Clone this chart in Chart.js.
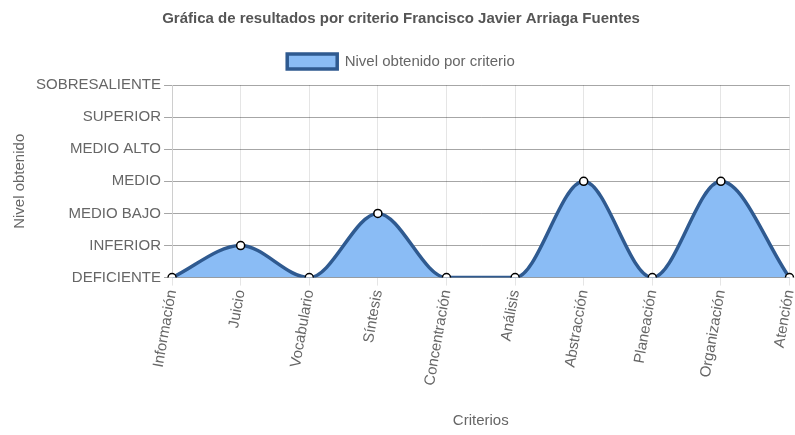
<!DOCTYPE html>
<html>
<head>
<meta charset="utf-8">
<script src="https://cdn.jsdelivr.net/npm/chart.js@4"></script>
<style>
  body { margin: 0; background: #fff; }
</style>
</head>
<body>
<canvas id="grafica" width="795" height="435"></canvas>
<script>
// Datos de la grafica
const criterios = ["Información", "Juicio", "Vocabulario", "Síntesis", "Concentración", "Análisis", "Abstracción", "Planeación", "Organización", "Atención"];
const niveles = [0, 1, 0, 2, 0, 0, 3, 0, 3, 0];
const etiquetasNivel = ["DEFICIENTE", "INFERIOR", "MEDIO BAJO", "MEDIO", "MEDIO ALTO", "SUPERIOR", "SOBRESALIENTE"];

Chart.defaults.font.family = "'Liberation Sans', Arial, sans-serif";
Chart.defaults.font.size = 15;
Chart.defaults.color = "#666";

// espacio extra debajo de la leyenda
const margenLeyenda = {
  id: "margenLeyenda",
  beforeInit(chart) {
    const fitOriginal = chart.legend.fit;
    chart.legend.fit = function () {
      fitOriginal.bind(chart.legend)();
      this.height += 6;
    };
  },
};

const ctx = document.getElementById("grafica").getContext("2d");

new Chart(ctx, {
  type: "line",
  data: {
    labels: criterios,
    datasets: [
      {
        label: "Nivel obtenido por criterio",
        data: niveles,
        fill: true,
        backgroundColor: "rgba(138, 188, 245, 1)",
        borderColor: "#2f5a90",
        borderWidth: 3.5,
        cubicInterpolationMode: "monotone",
        pointBackgroundColor: "#fff",
        pointBorderColor: "#000",
        pointBorderWidth: 1.5,
        pointRadius: 4,
      },
    ],
  },
  options: {
    responsive: false,
    animation: false,
    layout: { padding: { left: 7, right: 0, top: 2, bottom: 1 } },
    plugins: {
      title: {
        display: true,
        text: "Gráfica de resultados por criterio Francisco Javier Arriaga Fuentes",
        color: "#555",
        font: { size: 15, weight: "bold" },
        padding: { top: 8, bottom: 10 },
      },
      legend: {
        labels: { boxWidth: 50, boxHeight: 15, color: "#666", padding: 16 },
      },
      tooltip: { enabled: false },
    },
    scales: {
      y: {
        min: 0,
        max: 6,
        ticks: {
          stepSize: 1,
          callback: (v) => etiquetasNivel[v],
        },
        grid: { color: "rgba(0,0,0,0.35)" },
        title: { display: true, text: "Nivel obtenido" },
      },
      x: {
        ticks: { minRotation: 80, maxRotation: 80 },
        grid: { color: "rgba(0,0,0,0.1)" },
        title: { display: true, text: "Criterios", padding: { top: 22 } },
        // dejar que la ultima etiqueta llegue casi al borde
        afterFit: (scale) => {
          scale.paddingRight = 5;
        },
      },
    },
  },
  plugins: [margenLeyenda],
});
</script>
</body>
</html>
